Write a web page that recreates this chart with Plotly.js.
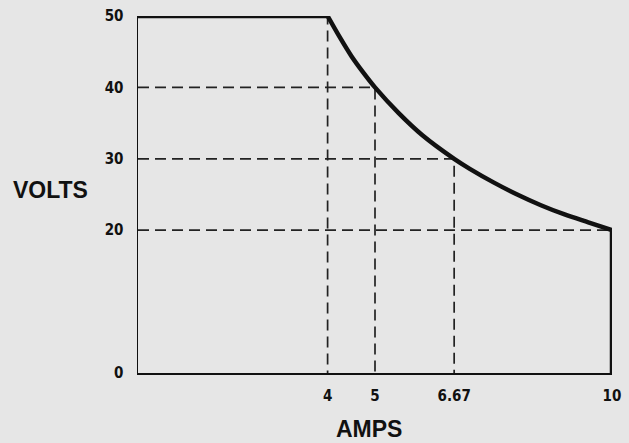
<!DOCTYPE html>
<html>
<head>
<meta charset="utf-8">
<script src="https://cdn.plot.ly/plotly-3.0.1.min.js"></script>
<style>html,body{margin:0;padding:0;background:#e6e6e6;}#chart{width:629px;height:443px;}</style>
</head>
<body>
<div id="chart"></div>
<script>
// Output characteristic (amps, volts)
const flatAmps   = [0, 4];
const flatVolts  = [50, 50];
const curveAmps  = [4, 4.25, 4.5, 4.75, 5, 5.5, 6, 6.67, 7, 7.5, 8, 8.5, 9, 9.5, 10];
const curveVolts = [50, 47.1, 44.4, 42.1, 40, 36.4, 33.3, 30, 28.6, 26.7, 25, 23.5, 22.2, 21.1, 20];
const dropAmps   = [10, 10];
const dropVolts  = [20, 0];
// Dashed guide points
const guideAmps  = [4, 5, 6.67, 10];
const guideVolts = [50, 40, 30, 20];
// Tick labels
const xTickVals = [4, 5, 6.67, 10];
const xTickText = ['4', '5', '6.67', '10'];
const yTickVals = [0, 20, 30, 40, 50];
const yTickText = ['0', '20', '30', '40', '50'];

const tickFont = {family: 'Liberation Sans Narrow, DejaVu Sans Condensed, Liberation Sans, Arial', size: 15, color: '#111', weight: 'bold'};
const titleFont = {family: 'Liberation Sans, Arial, sans-serif', size: 23, color: '#111'};

const traces = [];
guideAmps.forEach((a, i) => {
  const v = guideVolts[i];
  traces.push({
    x: [0, a, a], y: [v, v, 0], mode: 'lines', type: 'scatter',
    line: {color: '#222', width: 1.7, dash: '11px,6px'}, hoverinfo: 'skip', showlegend: false
  });
});
const thick = {color: '#111', width: 4.5};
traces.push({x: flatAmps, y: flatVolts, mode: 'lines', type: 'scatter', line: thick, showlegend: false});
traces.push({x: curveAmps, y: curveVolts, mode: 'lines', type: 'scatter',
  line: Object.assign({shape: 'spline', smoothing: 0.8}, thick), showlegend: false});
traces.push({x: dropAmps, y: dropVolts, mode: 'lines', type: 'scatter', line: thick, showlegend: false});

const layout = {
  width: 629, height: 443,
  margin: {l: 138, r: 17, t: 16, b: 70},
  paper_bgcolor: '#e6e6e6', plot_bgcolor: '#e6e6e6',
  showlegend: false,
  xaxis: {
    range: [0, 10], showgrid: false, zeroline: false,
    showline: true, linecolor: '#111', linewidth: 1.5,
    tickmode: 'array', tickvals: xTickVals, ticktext: xTickText,
    ticks: '', tickfont: tickFont, ticklabelstandoff: 8
  },
  yaxis: {
    range: [0, 50], showgrid: false, zeroline: false,
    showline: true, linecolor: '#111', linewidth: 1.5,
    tickmode: 'array', tickvals: yTickVals, ticktext: yTickText,
    ticks: '', tickfont: tickFont, ticklabelstandoff: 10
  },
  annotations: [
    {text: '<b>VOLTS</b>', xref: 'paper', yref: 'paper', x: -0.268, y: 0.513,
     xanchor: 'left', yanchor: 'middle', showarrow: false, font: titleFont},
    {text: '<b>AMPS</b>', xref: 'paper', yref: 'paper', x: 0.487, y: -0.115,
     xanchor: 'center', yanchor: 'top', showarrow: false, font: titleFont}
  ]
};

Plotly.newPlot('chart', traces, layout, {displayModeBar: false, staticPlot: true});
</script>
</body>
</html>
